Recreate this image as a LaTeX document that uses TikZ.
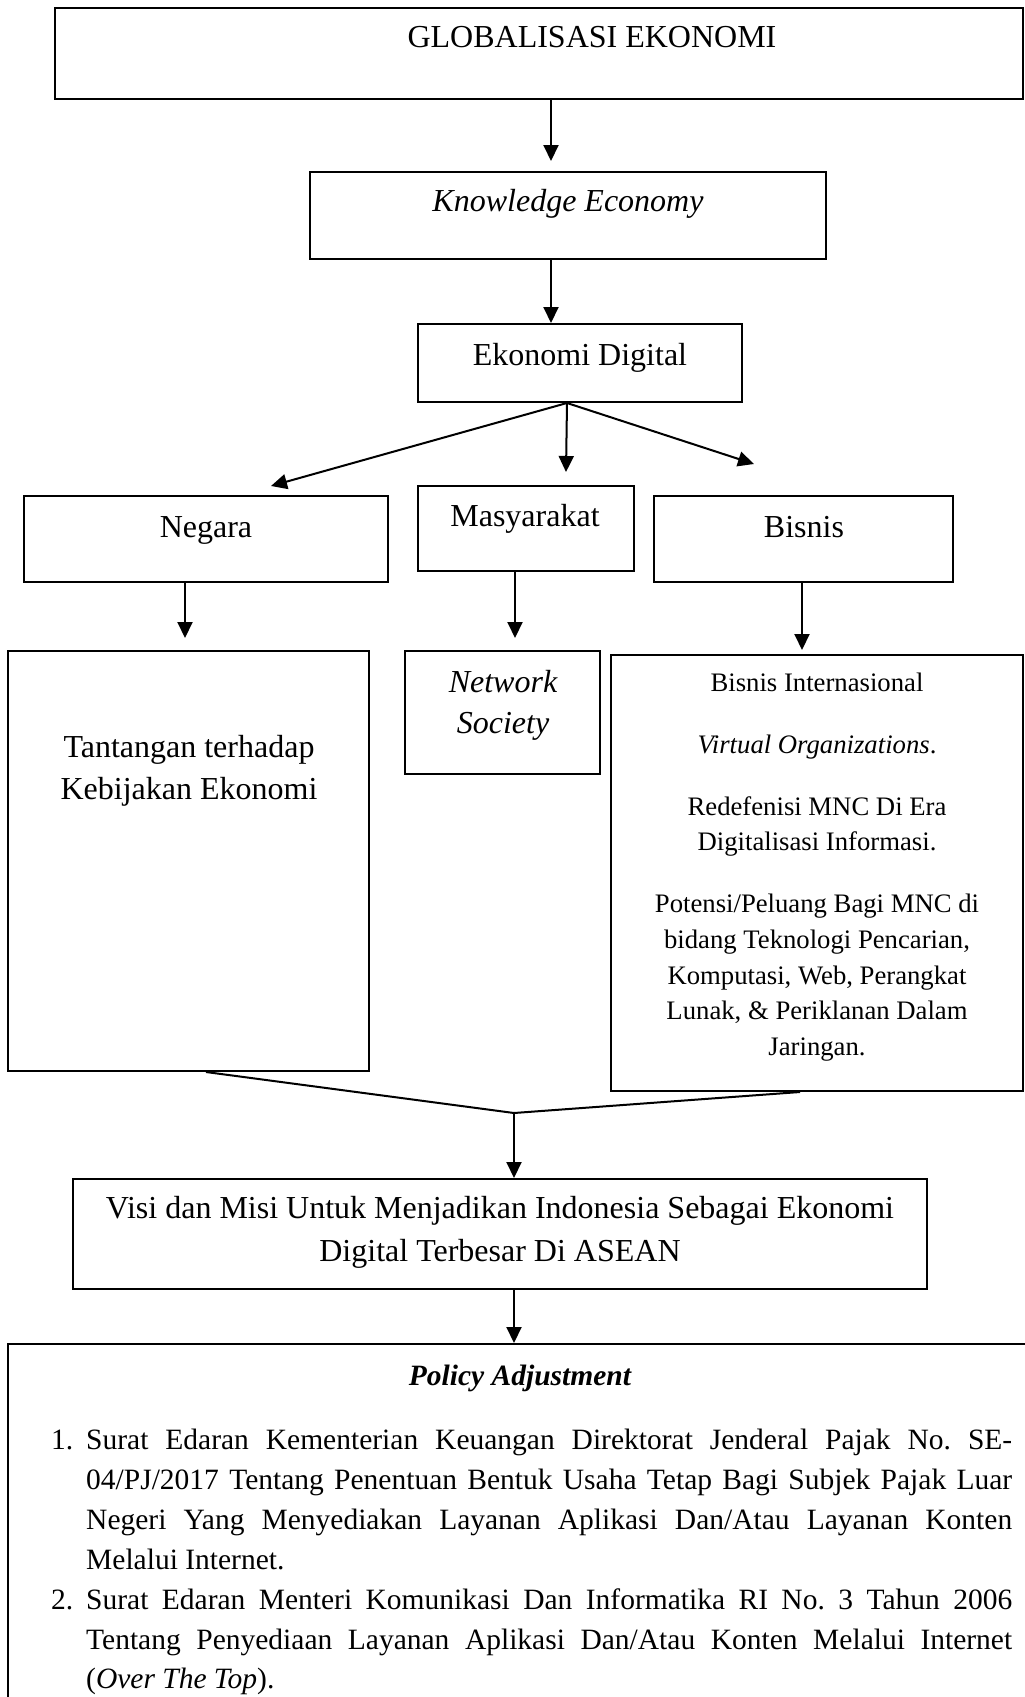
\documentclass[tikz,border=0pt]{standalone}
\usepackage{fontspec}
\setmainfont{Liberation Serif}
\usetikzlibrary{arrows.meta}
\frenchspacing
\begin{document}
\begin{tikzpicture}[x=1pt,y=-1pt,
  box/.style={draw, line width=2pt, inner sep=0pt},
  arr/.style={line width=2pt, -{Triangle[length=16pt,width=15pt]}},
  conn/.style={line width=2pt},
  big/.style={font=\fontsize{32}{40}\selectfont\frenchspacing, inner sep=0pt, anchor=base},
  mid/.style={font=\fontsize{29.5}{39}\selectfont\frenchspacing, inner sep=0pt, anchor=base west},
  small/.style={font=\fontsize{26.7}{35}\selectfont\frenchspacing, inner sep=0pt, anchor=base}]
\clip (0,0) rectangle (1025,1697);
\fill[white] (0,0) rectangle (1025,1697);

% boxes
\node[box, minimum width=968pt, minimum height=91pt] (g) at (539,53.5) {};
\node[box, minimum width=516pt, minimum height=87pt] (ke) at (568,215.5) {};
\node[box, minimum width=324pt, minimum height=78pt] (ed) at (580,363) {};
\node[box, minimum width=364pt, minimum height=86pt] (ng) at (206,539) {};
\node[box, minimum width=216pt, minimum height=85pt] (ms) at (526,528.5) {};
\node[box, minimum width=299pt, minimum height=86pt] (bs) at (803.5,539) {};
\node[box, minimum width=361pt, minimum height=420pt] (tt) at (188.5,861) {};
\node[box, minimum width=195pt, minimum height=123pt] (ns) at (502.5,712.5) {};
\node[box, minimum width=412pt, minimum height=436pt] (bi) at (817,873) {};
\node[box, minimum width=854pt, minimum height=110pt] (vs) at (500,1234) {};
\node[box, minimum width=1024pt, minimum height=400pt] (pa) at (520,1544) {};

% texts
\node[big] (gt) at (592,47.3) {GLOBALISASI EKONOMI};
\node[big] (ket) at (568,211.7) {\itshape Knowledge Economy};
\node[big] (edt) at (580,365) {Ekonomi Digital};
\node[big] (ngt) at (206,537) {Negara};
\node[big] (mst) at (525,526) {Masyarakat};
\node[big] (bst) at (804,537) {Bisnis};
\node[big] (tt1) at (189,757) {Tantangan terhadap};
\node[big] (tt2) at (189,799) {Kebijakan Ekonomi};
\node[big] (ns1) at (503,692) {\itshape Network};
\node[big] (ns2) at (503,733) {\itshape Society};
\node[small] (bi1) at (817,691) {Bisnis Internasional};
\node[small] (bi2) at (817,753) {\itshape Virtual Organizations\upshape .};
\node[small] (bi3) at (817,815) {Redefenisi MNC Di Era};
\node[small] (bi4) at (817,850.5) {Digitalisasi Informasi.};
\node[small] (bi5) at (817,912.5) {Potensi/Peluang Bagi MNC di};
\node[small] (bi6) at (817,948) {bidang Teknologi Pencarian,};
\node[small] (bi7) at (817,984) {Komputasi, Web, Perangkat};
\node[small] (bi8) at (817,1019.5) {Lunak, \& Periklanan Dalam};
\node[small] (bi9) at (817,1055) {Jaringan.};
\node[big] (vs1) at (500,1218) {Visi dan Misi Untuk Menjadikan Indonesia Sebagai Ekonomi};
\node[big] (vs2) at (500,1261) {Digital Terbesar Di ASEAN};
\node[mid, anchor=base] (pat) at (520,1385) {\bfseries\itshape Policy Adjustment};

\node[mid] (n1) at (51,1449) {1.};
\node[mid] (l1) at (86,1449) {\makebox[926pt][s]{Surat Edaran Kementerian Keuangan Direktorat Jenderal Pajak No. SE-}};
\node[mid] (l2) at (86,1489) {\makebox[926pt][s]{04/PJ/2017 Tentang Penentuan Bentuk Usaha Tetap Bagi Subjek Pajak Luar}};
\node[mid] (l3) at (86,1529) {\makebox[926pt][s]{Negeri Yang Menyediakan Layanan Aplikasi Dan/Atau Layanan Konten}};
\node[mid] (l4) at (86,1569) {Melalui Internet.};
\node[mid] (n2) at (51,1609) {2.};
\node[mid] (l5) at (86,1609) {\makebox[926pt][s]{Surat Edaran Menteri Komunikasi Dan Informatika RI No. 3 Tahun 2006}};
\node[mid] (l6) at (86,1649) {\makebox[926pt][s]{Tentang Penyediaan Layanan Aplikasi Dan/Atau Konten Melalui Internet}};
\node[mid] (l7) at (86,1688) {(\textit{Over The Top}).};

% free ends
\coordinate (e1) at (551,161);
\coordinate (eng) at (271,486);
\coordinate (ems) at (566,472);
\coordinate (ebs) at (754,464);
\coordinate (e4) at (185,638);
\coordinate (e5) at (515,638);
\coordinate (e6) at (802,650);
\coordinate (mg) at (514,1113);

% connectors
\draw[arr] (e1 |- g.south) -- (e1);
\draw[arr] ([xshift=-17pt]ke.south) -- ([xshift=-29pt]ed.north);
\draw[arr] ([xshift=-13pt]ed.south) -- (eng);
\draw[arr] ([xshift=-13pt]ed.south) -- (ems);
\draw[arr] ([xshift=-13pt]ed.south) -- (ebs);
\draw[arr] ([xshift=-21pt]ng.south) -- (e4);
\draw[arr] ([xshift=-11pt]ms.south) -- (e5);
\draw[arr] ([xshift=-1.5pt]bs.south) -- (e6);
\draw[conn] ([xshift=17.5pt]tt.south) -- (mg);
\draw[conn] ([xshift=-17pt]bi.south) -- (mg);
\draw[arr] (mg) -- ([xshift=14pt]vs.north);
\draw[arr] ([xshift=14pt]vs.south) -- ([xshift=-6pt]pa.north);
\end{tikzpicture}
\end{document}
